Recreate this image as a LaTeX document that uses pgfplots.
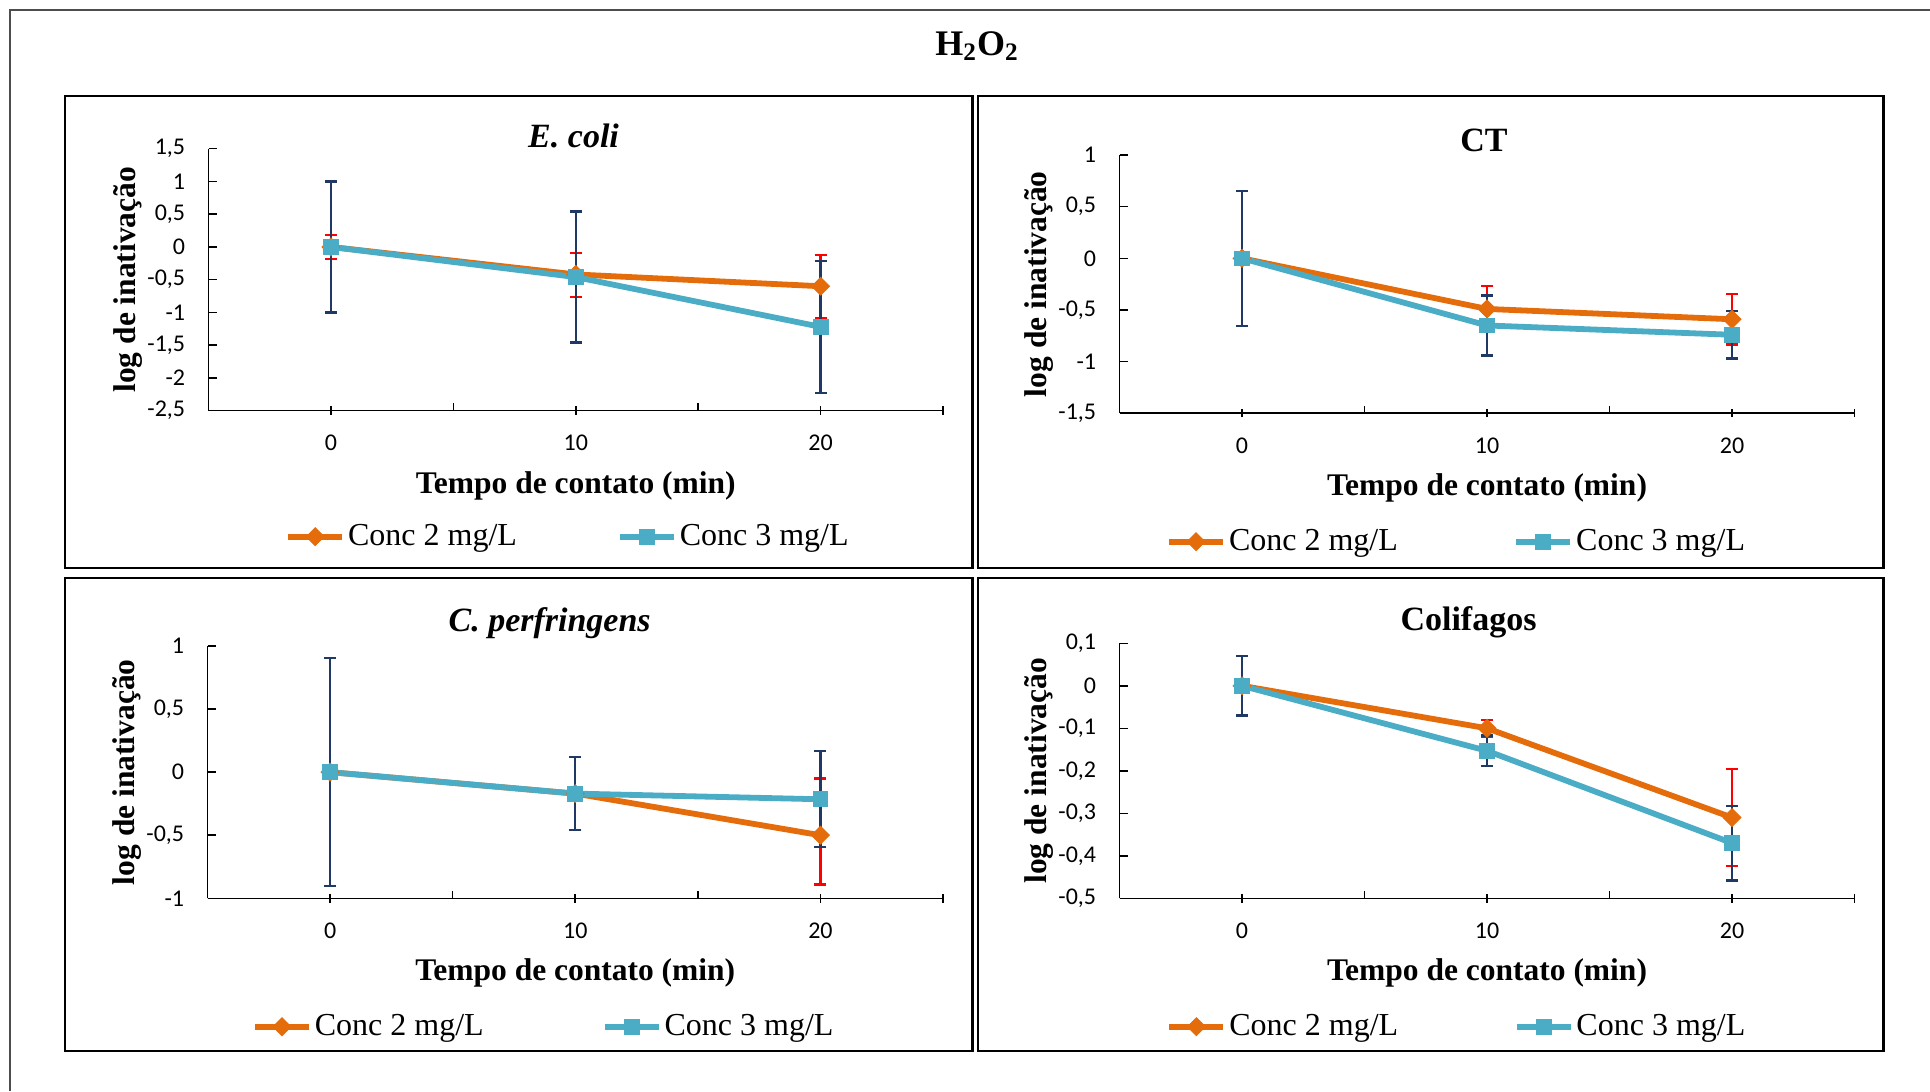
\documentclass[border=0pt]{standalone}
\usepackage{fontspec}
\setmainfont{Liberation Serif}
\newfontfamily\tickfont{Carlito}
\usepackage{pgfplots}
\usepackage{pgfplotstable}
\pgfplotsset{compat=1.18}

\definecolor{orng}{HTML}{E46C0A}
\definecolor{aqua}{HTML}{4BACC6}
\definecolor{errred}{HTML}{FF0000}
\definecolor{errnavy}{HTML}{1F3864}
\definecolor{framegray}{HTML}{4D4D4D}

% diamond with equal width and height
\pgfdeclareplotmark{ediamond}{%
  \pgfpathmoveto{\pgfqpoint{0pt}{\pgfplotmarksize}}%
  \pgfpathlineto{\pgfqpoint{\pgfplotmarksize}{0pt}}%
  \pgfpathlineto{\pgfqpoint{0pt}{-\pgfplotmarksize}}%
  \pgfpathlineto{\pgfqpoint{-\pgfplotmarksize}{0pt}}%
  \pgfpathclose\pgfusepathqfillstroke}

% t: contact time (min); c2, c3: mean log inactivation; p/m: error up/down
\pgfplotstableread{
t   c2     c2p    c2m    c3      c3p    c3m
0   0      0.18   0.18   0       1.00   1.00
10  -0.42  0.33   0.35   -0.46   1.00   1.00
20  -0.60  0.48   0.49   -1.22   1.01   1.01
}\ecoli
\pgfplotstableread{
t   c2     c2p    c2m    c3      c3p    c3m
0   0      0.655  0.655  0       0.655  0.655
10  -0.49  0.22   0.22   -0.65   0.29   0.29
20  -0.59  0.245  0.245  -0.74   0.23   0.23
}\ct
\pgfplotstableread{
t   c2     c2p    c2m    c3      c3p    c3m
0   0      0.905  0.905  0       0.905  0.905
10  -0.17  0.29   0.29   -0.17   0.29   0.29
20  -0.50  0.45   0.39   -0.215  0.38   0.38
}\cperf
\pgfplotstableread{
t   c2     c2p    c2m    c3      c3p    c3m
0   0      0.07   0.07   0       0.07   0.07
10  -0.10  0.02   0.02   -0.153  0.036  0.036
20  -0.31  0.114  0.114  -0.37   0.088  0.088
}\colif

\pgfplotsset{
  panel/.style={
    scale only axis, clip=false,
    xmin=-5, xmax=25,
    xtick={0,10,20}, minor xtick={5,15},
    extra x ticks={25}, extra x tick labels={},
    axis x line*=bottom, axis y line*=left,
    tick align=inside,
    major tick length=4.2pt, minor tick length=3.6pt,
    every major x tick/.append style={yshift=-2.1pt},
    axis line style={line width=0.8pt, black},
    every tick/.append style={line width=0.8pt, black},
    scaled y ticks=false,
    /pgf/number format/assume math mode=true,
    tick label style={font=\tickfont\fontsize{12}{14}\selectfont},
    xticklabel style={anchor=base, yshift=-20pt},
    yticklabel style={anchor=east, inner sep=0pt, xshift=-11.5pt,
      /pgf/number format/use comma, /pgf/number format/fixed,
      /pgf/number format/precision=1},
    xlabel={Tempo de contato (min)},
    ylabel={log de inativação},
    label style={font=\fontsize{15.75}{18}\selectfont\bfseries},
    xlabel style={at={(axis description cs:0.5,0)}, anchor=base, yshift=-41.3pt},
    ylabel style={at={([xshift=-40.25pt]axis description cs:0,0.5)}, anchor=center},
    title style={font=\fontsize{17}{20}\selectfont\bfseries,
                 at={(axis description cs:0.5,1)}, anchor=base},
    legend columns=2,
    legend image code/.code={%
      \draw[mark repeat=2, mark phase=2, #1]
        plot coordinates {(0pt,0pt) (13.5pt,0pt) (27pt,0pt)};},
    legend style={draw=none, fill=none, inner sep=0pt, outer sep=0pt,
      at={(axis description cs:0,0)}, anchor=west,
      font=\fontsize{16}{19}\selectfont,
      nodes={inner xsep=1.5pt, inner ysep=0pt}, column sep=0pt},
  },
  c2line/.style={orng, line width=2.9pt, mark=ediamond, mark size=4.5pt,
    mark options={fill=orng, draw=orng, line width=0.4pt}},
  c3line/.style={aqua, line width=2.9pt, mark=square*, mark size=3.7pt,
    mark options={fill=aqua, draw=aqua, line width=0.4pt}},
  c2err/.style={error bars/.cd, y dir=both, y explicit,
    error bar style={line width=1.1pt, errred},
    error mark options={rotate=90, errred, line width=1.1pt, mark size=3pt}},
  c3err/.style={error bars/.cd, y dir=both, y explicit,
    error bar style={line width=1.1pt, errnavy},
    error mark options={rotate=90, errnavy, line width=1.1pt, mark size=3pt}},
}

\begin{document}
\begin{tikzpicture}
\useasboundingbox (0,0) rectangle (965pt,545.5pt);

% outer frame and panel frames
\draw[framegray, line width=1pt] (5pt,0pt) -- (5pt,540.5pt) -- (965pt,540.5pt);
\draw[black, line width=1.1pt] (32.35pt,261.5pt) rectangle (486.25pt,497.5pt);
\draw[black, line width=1.1pt] (489pt,261.5pt) rectangle (941.75pt,497.5pt);
\draw[black, line width=1.1pt] (32.35pt,20pt) rectangle (486.25pt,256.5pt);
\draw[black, line width=1.1pt] (489pt,20pt) rectangle (941.75pt,256.5pt);

\node[anchor=base, font=\fontsize{18}{21}\selectfont\bfseries]
  at (488.5pt,517.8pt) {H\textsubscript{2}O\textsubscript{2}};

% E. coli
\begin{axis}[panel, at={(104.25pt,340.15pt)}, anchor=south west,
  width=367.25pt, height=131pt,
  ymin=-2.5, ymax=1.5, ytick={-2.5,-2,-1.5,-1,-0.5,0,0.5,1,1.5},
  title={\textit{E. coli}}, title style={xshift=-1.1pt, yshift=-5.65pt},
  legend style={xshift=38.4pt, yshift=-63pt,
    /tikz/every even column/.append style={column sep=48.5pt}}]
\addplot[c2line, c2err] table[x=t, y=c2, y error plus=c2p, y error minus=c2m] {\ecoli};
\addplot[c3line, c3err] table[x=t, y=c3, y error plus=c3p, y error minus=c3m] {\ecoli};
\legend{Conc 2 mg/L, Conc 3 mg/L}
\end{axis}

% CT
\begin{axis}[panel, at={(559.75pt,338.85pt)}, anchor=south west,
  width=367.5pt, height=129.15pt,
  ymin=-1.5, ymax=1, ytick={-1.5,-1,-0.5,0,0.5,1},
  title={CT}, title style={xshift=-1.5pt, yshift=-4.3pt},
  legend style={xshift=23.35pt, yshift=-64.2pt,
    /tikz/every even column/.append style={column sep=56.25pt}}]
\addplot[c2line, c2err] table[x=t, y=c2, y error plus=c2p, y error minus=c2m] {\ct};
\addplot[c3line, c3err] table[x=t, y=c3, y error plus=c3p, y error minus=c3m] {\ct};
\legend{Conc 2 mg/L, Conc 3 mg/L}
\end{axis}

% C. perfringens
\begin{axis}[panel, at={(103.75pt,96.35pt)}, anchor=south west,
  width=367.75pt, height=126.15pt,
  ymin=-1, ymax=1, ytick={-1,-0.5,0,0.5,1},
  title={\textit{C. perfringens}}, title style={xshift=-12.8pt, yshift=1.2pt},
  legend style={xshift=22.3pt, yshift=-64.2pt,
    /tikz/every even column/.append style={column sep=57.5pt}}]
\addplot[c2line, c2err] table[x=t, y=c2, y error plus=c2p, y error minus=c2m] {\cperf};
\addplot[c3line, c3err] table[x=t, y=c3, y error plus=c3p, y error minus=c3m] {\cperf};
\legend{Conc 2 mg/L, Conc 3 mg/L}
\end{axis}

% Colifagos
\begin{axis}[panel, at={(559.75pt,96.35pt)}, anchor=south west,
  width=367.5pt, height=127.5pt,
  ymin=-0.5, ymax=0.1, ytick={-0.5,-0.4,-0.3,-0.2,-0.1,0,0.1},
  title={Colifagos}, title style={xshift=-9.25pt, yshift=0.45pt},
  legend style={xshift=23.5pt, yshift=-64.2pt,
    /tikz/every even column/.append style={column sep=56.25pt}}]
\addplot[c2line, c2err] table[x=t, y=c2, y error plus=c2p, y error minus=c2m] {\colif};
\addplot[c3line, c3err] table[x=t, y=c3, y error plus=c3p, y error minus=c3m] {\colif};
\legend{Conc 2 mg/L, Conc 3 mg/L}
\end{axis}
\end{tikzpicture}
\end{document}
